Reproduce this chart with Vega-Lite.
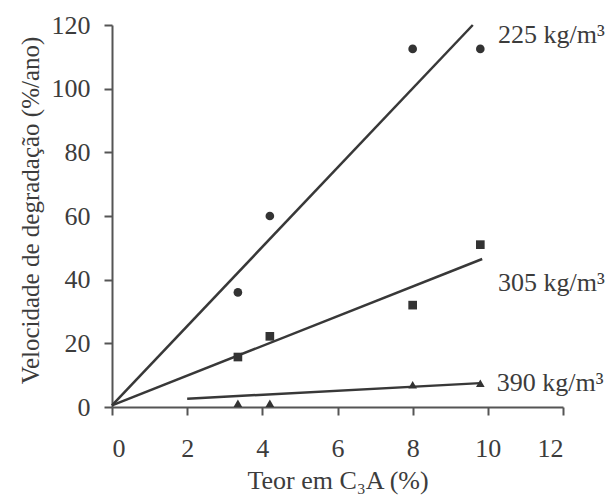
{
  "$schema": "https://vega.github.io/schema/vega-lite/v6.json",
  "width": 451,
  "height": 382,
  "autosize": "none",
  "padding": {"left": 112, "top": 25, "right": 48, "bottom": 90},
  "background": "white",
  "config": {
    "view": {"stroke": null},
    "font": "Liberation Serif",
    "axis": {
      "grid": false,
      "domainColor": "#555",
      "domainWidth": 2,
      "tickColor": "#555",
      "tickWidth": 2,
      "tickSize": 8,
      "labelFont": "Liberation Serif",
      "labelFontSize": 26,
      "labelColor": "#3c3c3c",
      "titleFont": "Liberation Serif",
      "titleFontSize": 25,
      "titleFontWeight": "normal",
      "titleColor": "#3c3c3c"
    }
  },
  "datasets": {
    "pts": [
      {"serie": "225", "c3a": 3.35, "v": 36},
      {"serie": "225", "c3a": 4.2, "v": 60},
      {"serie": "225", "c3a": 8.0, "v": 112.5},
      {"serie": "225", "c3a": 9.8, "v": 112.5},
      {"serie": "305", "c3a": 3.35, "v": 15.7},
      {"serie": "305", "c3a": 4.2, "v": 22.2},
      {"serie": "305", "c3a": 8.0, "v": 32},
      {"serie": "305", "c3a": 9.8, "v": 51},
      {"serie": "390", "c3a": 3.35, "v": 1.2},
      {"serie": "390", "c3a": 4.2, "v": 1.2},
      {"serie": "390", "c3a": 8.0, "v": 7},
      {"serie": "390", "c3a": 9.8, "v": 7.5}
    ],
    "fits": [
      {"serie": "225", "c3a": 0, "v": 0.5},
      {"serie": "225", "c3a": 9.6, "v": 120},
      {"serie": "305", "c3a": 0, "v": 0.5},
      {"serie": "305", "c3a": 9.85, "v": 46.5},
      {"serie": "390", "c3a": 2, "v": 2.6},
      {"serie": "390", "c3a": 9.8, "v": 7.5}
    ],
    "labels": [
      {"txt": "225 kg/m³", "c3a": 10.27, "v": 117},
      {"txt": "305 kg/m³", "c3a": 10.27, "v": 39},
      {"txt": "390 kg/m³", "c3a": 10.24, "v": 7.5}
    ]
  },
  "encoding": {
    "x": {
      "field": "c3a", "type": "quantitative",
      "scale": {"domain": [0, 12], "nice": false},
      "axis": {"values": [0, 2, 4, 6, 8, 10, 12], "title": "Teor em C₃A (%)", "labelFont": "Liberation Serif", "titleFont": "Liberation Serif", "titleFontSize": 26, "labelPadding": 20, "titlePadding": 6}
    },
    "y": {
      "field": "v", "type": "quantitative",
      "scale": {"domain": [0, 120], "nice": false},
      "axis": {"values": [0, 20, 40, 60, 80, 100, 120], "title": "Velocidade de degradação (%/ano)", "labelFont": "Liberation Serif", "titleFont": "Liberation Serif", "labelPadding": 14, "titlePadding": 8, "titleY": 185}
    }
  },
  "layer": [
    {
      "data": {"name": "fits"},
      "mark": {"type": "line", "color": "#383838", "strokeWidth": 2.5, "clip": false},
      "encoding": {"detail": {"field": "serie"}}
    },
    {
      "data": {"name": "pts"},
      "mark": {"type": "point", "filled": true, "color": "#333", "opacity": 1, "size": 75, "clip": false},
      "encoding": {
        "shape": {
          "field": "serie", "type": "nominal",
          "scale": {"domain": ["225", "305", "390"], "range": ["circle", "square", "triangle-up"]},
          "legend": null
        }
      }
    },
    {
      "data": {"name": "labels"},
      "mark": {"type": "text", "align": "left", "baseline": "middle", "fontSize": 26, "color": "#3c3c3c", "font": "Liberation Serif", "clip": false},
      "encoding": {"text": {"field": "txt"}}
    }
  ]
}
